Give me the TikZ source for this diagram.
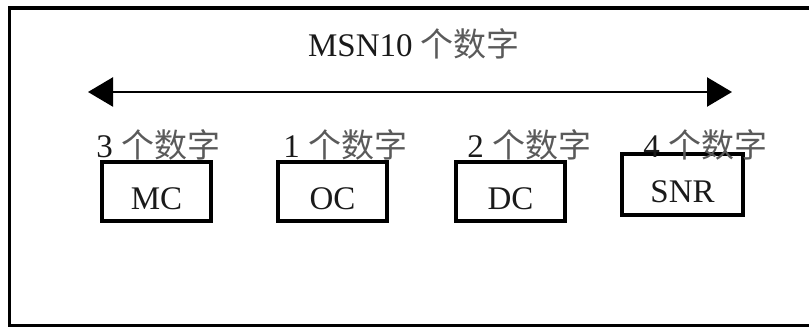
\documentclass[tikz,border=0pt]{standalone}
\usepackage{fontspec}
\setmainfont{Liberation Serif}
\newfontfamily\cjk{Noto Sans CJK SC}
\usepackage{tikz}
\usetikzlibrary{arrows.meta,positioning}
\definecolor{ink}{HTML}{1A1A1A}
\definecolor{hanzi}{HTML}{5A5A5A}
\tikzset{
  field/.style={draw=black, line width=2pt, minimum width=54.5pt, minimum height=29.5pt,
    inner sep=0pt, text height=18pt, text depth=0pt, text=ink},
  digits/.style={anchor=base west, inner sep=0pt, text=ink},
  span/.style={{Triangle[length=12.5pt,width=14.5pt]}-{Triangle[length=12.5pt,width=14.5pt]},
    line width=1.2pt, draw=black}
}
\newcommand{\gezi}{{\cjk\color{hanzi}个数字}}

\begin{document}
\begin{tikzpicture}[x=0.5pt, y=-0.5pt, font=\fontsize{16.5pt}{18pt}\selectfont]
  \useasboundingbox (0,0) rectangle (809,330);

  % open frame, right side runs off the page
  \draw[line width=1.6pt] (809,8) -- (9.5,8) -- (9.5,325.5) -- (809,325.5);

  \node[anchor=base, inner sep=0pt, text=ink] (title) at (414,57) {MSN10 \gezi};

  \coordinate (lend) at (88,92);
  \coordinate (rend) at (732,92);
  \draw[span] (lend) -- (rend);

  % the four fields
  \node[field] (mc) at (156.5,191.5) {MC};
  \node[field, right=31.5pt of mc] (oc) {OC};
  \node[field, right=32.5pt of oc] (dc) {DC};
  \node[field, minimum width=60.5pt, minimum height=30.5pt, right=26.5pt of dc, yshift=3.5pt] (snr) {SNR};

  \node[digits] (mcn) at (96,158) {3 \gezi};
  \node[digits] (ocn) at (283,158) {1 \gezi};
  \node[digits] (dcn) at (467,158) {2 \gezi};
  \node[digits] (snrn) at (643,158) {4 \gezi};
\end{tikzpicture}
\end{document}
